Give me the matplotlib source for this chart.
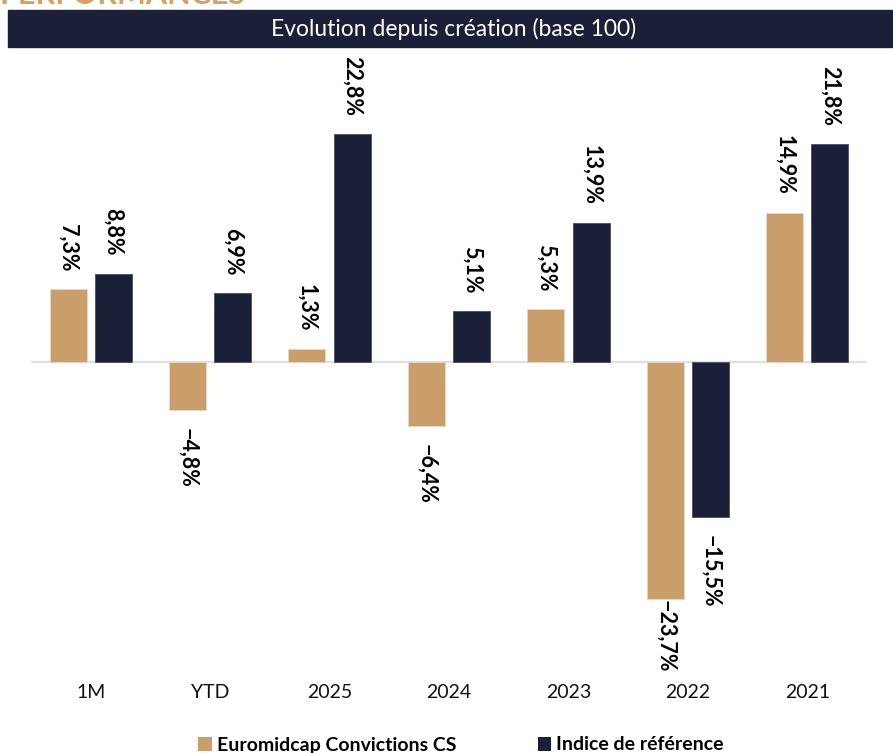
import matplotlib
matplotlib.use("Agg")
import matplotlib.pyplot as plt
from matplotlib.patches import Rectangle, Patch
import numpy as np

categories = ["1M", "YTD", "2025", "2024", "2023", "2022", "2021"]
fund = [7.3, -4.8, 1.3, -6.4, 5.3, -23.7, 14.9]
bench = [8.8, 6.9, 22.8, 5.1, 13.9, -15.5, 21.8]
series_names = ["Euromidcap Convictions CS", "Indice de référence"]
header_title = "Evolution depuis création (base 100)"
top_title = "PERFORMANCES"

TAN = "#C99E6A"
NAVY = "#1B1F38"
FONT = ["Lato", "DejaVu Sans"]
plt.rcParams["font.family"] = FONT

W, H = 893, 753
fig = plt.figure(figsize=(W / 100, H / 100), dpi=100)

def fx(px):
    return px / W

def fy(py):
    return 1 - py / H

# clipped orange title at very top (cut off as in the reference)
fig.text(fx(0), fy(4), top_title, color="#D6A262", fontsize=22, fontweight="bold",
         va="baseline", ha="left")

# header bar
fig.patches.append(Rectangle((fx(8), fy(47)), 1 - fx(8), (47 - 10) / H,
                             transform=fig.transFigure, color=NAVY, zorder=0))
fig.text(fx(454), fy(29), header_title, color="white", fontsize=16.5,
         ha="center", va="center")

# axes
ax_left, ax_right, ax_top, ax_bot = 31, 867, 55, 670
ax = fig.add_axes([fx(ax_left), fy(ax_bot), fx(ax_right - ax_left), (ax_bot - ax_top) / H])
zero_px = 362
ppu = 10.0
ax.set_ylim(-(ax_bot - zero_px) / ppu, (zero_px - ax_top) / ppu)
x = np.arange(len(categories))
ax.set_xlim(-0.5, len(categories) - 0.5)

bw = 0.31
off = 0.19
ax.bar(x - off, fund, bw, color=TAN, edgecolor="#ead9c3", linewidth=0.6, zorder=3)
ax.bar(x + off, bench, bw, color=NAVY, edgecolor="#4a4e66", linewidth=0.6, zorder=3)
ax.axhline(0, color="#dde1e6", lw=1.6, zorder=2)

for s in ax.spines.values():
    s.set_visible(False)
ax.set_yticks([])
ax.set_xticks(x)
ax.set_xticklabels(categories, fontsize=14, color="#111111")
ax.tick_params(axis="x", length=0, pad=10)

gap = 18 / ppu
texts = []
for xs, vals in ((x - off, fund), (x + off, bench)):
    for xi, v in zip(xs, vals):
        lab = f"{v:.1f}".replace(".", ",").replace("-", "\u2212") + "%"
        if v >= 0:
            t = ax.text(xi, v + gap, lab, rotation=270, ha="center", va="bottom",
                        fontsize=15.5, fontweight="bold", color="black", zorder=4)
        else:
            t = ax.text(xi, v - gap, lab, rotation=270, ha="center", va="top",
                        fontsize=15.5, fontweight="bold", color="black", zorder=4)
        texts.append((t, v))

# keep negative labels inside the plotting area
fig.canvas.draw()
r = fig.canvas.get_renderer()
ax_bb = ax.get_window_extent(r)
for t, v in texts:
    bb = t.get_window_extent(r)
    if v < 0 and bb.y0 < ax_bb.y0 - 2:
        shift = (ax_bb.y0 - 2 - bb.y0) / ppu
        xx, yy = t.get_position()
        t.set_position((xx, yy + shift))

handles = [Patch(facecolor=TAN, edgecolor="none"), Patch(facecolor=NAVY, edgecolor="none")]
fig.legend(handles, series_names, loc="center", bbox_to_anchor=(fx(461), fy(745)),
           ncol=2, frameon=False, handlelength=0.7, handleheight=0.7,
           handletextpad=0.25, columnspacing=4.2,
           prop={"family": FONT, "weight": "bold", "size": 14})

fig.savefig("out.png", dpi=100)
